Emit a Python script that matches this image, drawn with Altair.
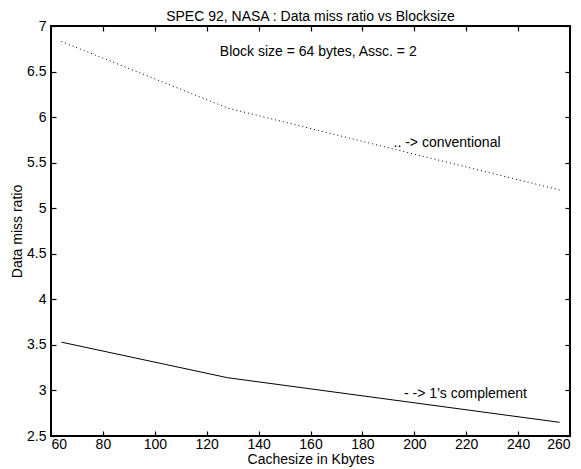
import altair as alt
import pandas as pd

cache = [64, 128, 256]
conventional = [6.83, 6.10, 5.20]
complement = [3.53, 3.14, 2.65]

x_ticks = [60, 80, 100, 120, 140, 160, 180, 200, 220, 240, 260]
y_ticks = [2.5, 3, 3.5, 4, 4.5, 5, 5.5, 6, 6.5, 7]

note_text = ["Block size = 64 bytes, Assc. = 2"]
note_x = [163]
note_y = [6.72]

label_text = [".. -> conventional", "- -> 1\u2019s complement"]
label_x = [192, 196]
label_y = [5.72, 2.96]

FONT = "Liberation Sans"
FS = 14

df = pd.DataFrame({"cache": cache, "conv": conventional, "comp": complement})
notes = pd.DataFrame({"t": note_text, "x": note_x, "y": note_y})
labels = pd.DataFrame({"t": label_text, "x": label_x, "y": label_y})

xs = alt.Scale(domain=[60, 260], nice=False, zero=False)
ys = alt.Scale(domain=[2.5, 7], nice=False, zero=False)

common_axis = dict(domain=False, grid=False, tickColor="black", tickWidth=1.2, tickSize=5, offset=-5,
                   labelOverlap=False,
                   labelFont=FONT, labelFontSize=FS, labelColor="black",
                   titleFont=FONT, titleFontSize=FS, titleColor="black",
                   titleFontWeight="normal")

# inward ticks on all four sides
x_bottom = alt.Axis(orient="bottom", values=x_ticks, format="d", labelPadding=1,
                    title="Cachesize in Kbytes", titlePadding=1, **common_axis)
y_left = alt.Axis(orient="left", values=y_ticks, format="~g", labelPadding=5,
                  title="Data miss ratio", titlePadding=2, **common_axis)
x_top = alt.Axis(orient="top", values=x_ticks, labels=False, title=None, **common_axis)
y_right = alt.Axis(orient="right", values=y_ticks, labels=False, title=None, **common_axis)

base = alt.Chart(df)

conv_line = base.mark_line(color="black", strokeWidth=1, strokeDash=[1, 3]).encode(
    x=alt.X("cache:Q", scale=xs, axis=x_bottom),
    y=alt.Y("conv:Q", scale=ys, axis=y_left),
)
comp_line = base.mark_line(color="black", strokeWidth=1).encode(
    x=alt.X("cache:Q", scale=xs, axis=x_top),
    y=alt.Y("comp:Q", scale=ys, axis=y_right),
)

note_layer = alt.Chart(notes).mark_text(font=FONT, fontSize=FS, color="black",
                                        align="center", baseline="middle").encode(
    x=alt.X("x:Q", scale=xs, axis=None),
    y=alt.Y("y:Q", scale=ys, axis=None),
    text="t:N",
)
label_layer = alt.Chart(labels).mark_text(font=FONT, fontSize=FS, color="black",
                                          align="left", baseline="middle").encode(
    x=alt.X("x:Q", scale=xs, axis=None),
    y=alt.Y("y:Q", scale=ys, axis=None),
    text="t:N",
)

chart = alt.layer(conv_line, comp_line, note_layer, label_layer).resolve_axis(
    x="independent", y="independent"
).properties(
    width=519,
    height=410,
    title=alt.TitleParams("SPEC 92, NASA : Data miss ratio vs Blocksize", font=FONT,
                          fontSize=FS, fontWeight="normal", color="black", offset=-5),
    autosize=alt.AutoSizeParams(type="none"),
    padding={"left": 43, "top": 18, "right": 2, "bottom": 33},
    background="white",
).configure_view(stroke="black", strokeWidth=2)

chart.save("out.html", embed_options={"renderer": "svg", "actions": False})
